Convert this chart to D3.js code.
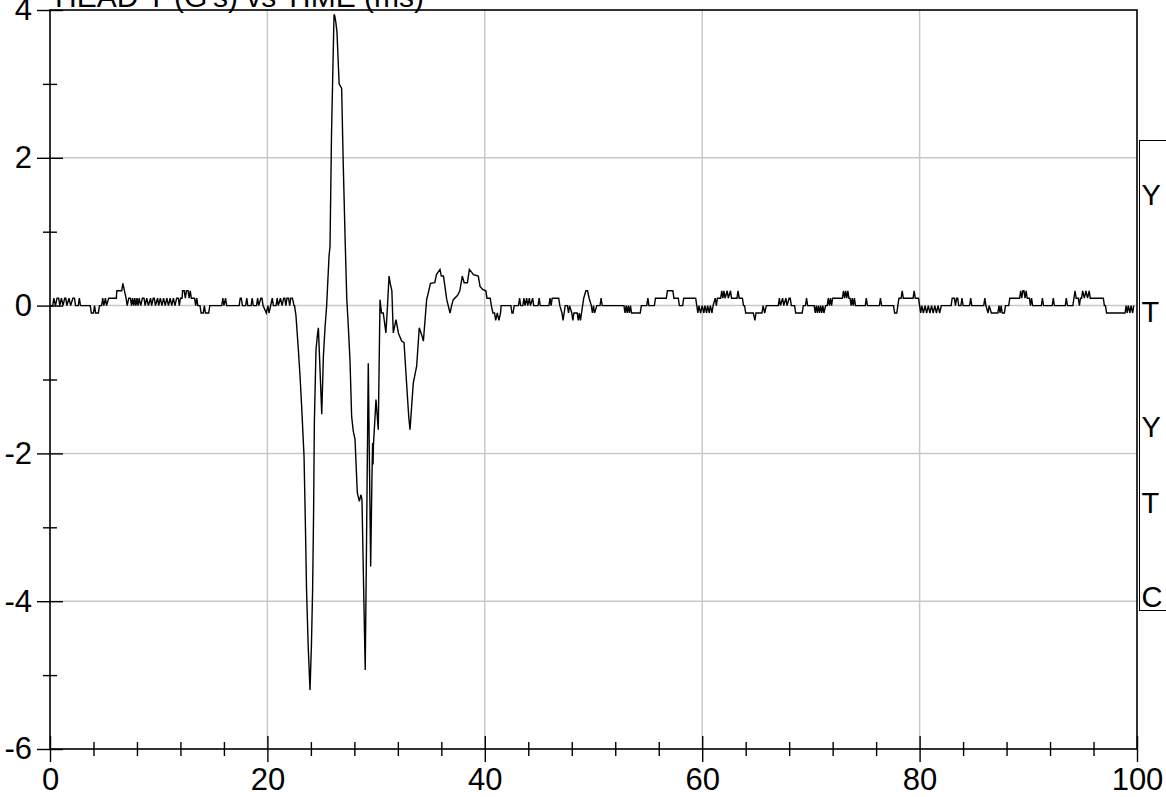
<!DOCTYPE html>
<html>
<head>
<meta charset="utf-8">
<script src="https://cdn.jsdelivr.net/npm/d3@7"></script>
<style>
  html, body { margin: 0; padding: 0; background: #fff; overflow: hidden; }
  svg { display: block; font-family: "Liberation Sans", Arial, sans-serif; }
</style>
</head>
<body>
<svg id="chart" width="1166" height="797"></svg>
<script>
// ---------- data ----------
const chartTitle = "HEAD Y (G's) vs TIME (ms)";
const xMajorTicks = [0, 20, 40, 60, 80, 100];
const yMajorTicks = [-6, -4, -2, 0, 2, 4];
const xGridValues = [20, 40, 60, 80];
const yGridValues = [-4, -2, 0, 2];
const legendLabels = ["Y", "T", "Y", "T", "C"];
const legendRowY = [195, 312, 427, 503, 597];

// pre-impact noise (time ms, G)
const preTime = [0,0.25,0.35,0.5,0.65,0.8,0.9,1.05,1.2,1.35,1.45,1.55,1.75,1.9,2.1,2.25,2.35,2.6,2.7,2.8,
  3.7,3.8,4.0,4.1,4.2,4.45,4.55,4.75,4.85,4.95,5.1,5.2,5.4,6.1,6.15,6.6,6.7,6.85,7.0,7.1,7.25,7.4,
  7.5,7.6,7.7,7.8,7.9,8.0,8.1,8.2,8.35,8.5,8.65,8.75,8.9,9.05,9.25,9.35,9.5,9.6,9.7,9.9,10.0,10.15,10.3,10.45,
  10.6,10.75,10.9,11.05,11.2,11.35,11.5,11.65,11.8,11.9,12.0,12.15,12.2,12.35,12.45,12.55,12.7,12.8,12.9,13.0,
  13.3,13.4,13.5,13.6,13.8,13.9,14.1,14.2,14.3,14.6,14.7,15.8,15.9,16.0,16.15,16.25,17.4,17.5,17.6,17.7,
  18.0,18.1,18.2,18.5,18.6,18.7,19.0,19.1,19.2,19.4,19.5,19.6,19.9,20.05,20.15,20.3,20.45,20.55,20.8,20.9,
  21.0,21.2,21.35,21.5,21.6,21.7,21.8,21.95,22.05,22.15,22.3,22.45];
const preG = [0,0,0.1,0,0.1,0.1,0,0.1,0,0.1,0.1,0,0.1,0,0.1,0.1,0,0,0.1,0,
  0,-0.1,-0.1,0,-0.1,-0.1,0,0,0.1,0,0.1,0,0.1,0.1,0.2,0.2,0.3,0.2,0.1,0,0.1,0.1,
  0,0.1,0,0.1,0,0.1,0,0.1,0,0.1,0.1,0,0.1,0,0.1,0,0.1,0.1,0,0.1,0,0.1,0,0.1,
  0,0.1,0,0.1,0,0.1,0,0.1,0.1,0,0.1,0.1,0.2,0.2,0.1,0.2,0.2,0.1,0.2,0.1,
  0.1,0,0.1,0,0,-0.1,-0.1,0,-0.1,-0.1,0,0,0.1,0,0.1,0,0,0.1,0.1,0,
  0,0.1,0,0,0.1,0,0,0.1,0,0.1,0.1,0,-0.1,0,-0.1,0,0.1,0,0,0.1,
  0,0.1,0,0.1,0.1,0,0.1,0.1,0,0.1,0.1,0];

// impact event
const impactTime = [22.5,22.63,22.85,23.0,23.15,23.37,23.5,23.6,23.75,23.92,24.05,24.16,24.25,24.32,24.47,24.6,24.69,
  24.85,25.0,25.15,25.3,25.45,25.67,25.76,25.9,26.13,26.2,26.3,26.4,26.6,26.83,26.98,27.15,27.3,27.45,27.6,27.75,
  27.9,28.06,28.27,28.46,28.6,28.7,28.85,29.0,29.12,29.28,29.5,29.62,29.68,29.72,29.75,29.99,30.2,30.36,30.5,30.66,
  30.9,31.05,31.19,31.3,31.45,31.58,31.83,32.05,32.35,32.57,32.8,33.0,33.12,33.3,33.42,33.73,33.97,34.2,34.35,34.65,
  34.8,35.0,35.4,35.55,35.88,36.0,36.2,36.5,36.8,36.95,37.1,37.5,37.7,37.93,38.1,38.4,38.58,38.8,38.95,39.4,39.56,
  39.8,40.1,40.2,40.5,40.6,40.75,40.9,41.0,41.15,41.3,41.45,41.5];
const impactG = [0,-0.14,-0.6,-0.95,-1.36,-2.04,-3.0,-3.84,-4.6,-5.2,-4.6,-3.84,-2.8,-1.59,-0.6,-0.4,-0.3,
  -0.9,-1.47,-0.69,-0.3,0.0,0.67,0.8,2.34,3.94,3.92,3.83,3.7,3.0,2.94,1.9,0.9,0.1,-0.3,-0.75,-1.5,
  -1.7,-1.81,-2.53,-2.65,-2.56,-2.62,-3.8,-4.93,-3.2,-0.78,-3.53,-2.3,-1.86,-2.15,-1.9,-1.27,-1.68,0.08,-0.1,-0.1,
  -0.37,0.0,0.4,0.3,0.2,-0.37,-0.19,-0.37,-0.48,-0.5,-1.04,-1.5,-1.68,-1.3,-1.05,-0.82,-0.3,-0.4,-0.48,0.08,
  0.17,0.3,0.31,0.42,0.49,0.4,0.4,0.08,-0.1,0,0.08,0.14,0.2,0.4,0.31,0.31,0.49,0.45,0.42,0.4,0.26,
  0.22,0.2,0.1,0.1,0,-0.1,-0.1,-0.2,-0.1,-0.2,-0.1,0];

// post-impact noise
const postTime = [41.6,42.4,42.5,42.6,42.7,43.1,43.2,43.3,43.5,43.6,43.7,43.85,43.95,44.1,44.2,44.4,44.5,44.9,45.0,45.1,
  45.9,46.0,46.1,46.2,46.8,46.9,47.1,47.2,47.3,47.4,47.6,47.7,47.8,48.0,48.1,48.2,48.5,48.6,48.7,48.8,48.9,
  49.1,49.3,49.45,49.6,49.8,49.9,50.0,50.1,50.3,50.6,50.7,50.8,52.8,52.9,53.0,53.1,53.2,53.3,53.4,53.5,54.3,54.4,
  54.9,55.0,55.1,55.6,55.7,56.7,56.8,57.3,57.4,57.8,57.9,58.2,58.3,59.4,59.5,59.6,59.7,59.85,60.0,60.15,60.25,
  60.4,60.5,60.65,60.75,60.9,61.0,61.2,61.3,61.4,61.7,61.8,61.9,62.0,62.1,62.3,62.4,62.6,62.7,63.2,63.3,63.4,
  63.7,63.8,63.9,64.0,64.7,64.85,64.95,65.5,65.6,65.75,65.9,67.0,67.1,67.2,67.4,67.5,67.7,67.8,68.0,68.1,68.2,
  68.5,68.6,68.7,69.2,69.3,69.5,69.6,69.7,70.3,70.4,70.5,70.6,70.7,70.8,70.9,71.0,71.1,71.2,71.35,71.5,71.6,
  71.7,71.8,71.9,72.0,72.9,73.0,73.1,73.2,73.3,73.4,73.5,73.6,73.7,73.8,73.9,74.0,74.1,75.0,75.1,75.2,76.3,
  76.4,76.5,77.6,77.7,77.9,78.0,78.1,78.3,78.4,78.5,79.4,79.5,79.6,79.9,80.0,80.1,80.2,80.35,80.5,80.65,80.8,
  80.95,81.1,81.25,81.4,81.55,81.7,81.85,82.0,82.9,83.0,83.2,83.3,83.4,83.5,83.6,83.8,83.9,84.0,84.6,84.7,84.8,
  85.9,86.0,86.1,86.3,86.4,86.6,87.2,87.3,87.4,87.5,87.6,87.8,87.9,88.2,88.3,89.2,89.3,89.4,89.5,89.6,89.7,
  89.8,89.9,90.1,90.2,90.3,90.4,91.2,91.3,91.4,92.2,92.3,92.4,93.4,93.5,93.6,94.1,94.2,94.3,94.4,94.6,94.7,
  94.8,94.9,95.0,95.15,95.3,95.45,95.6,95.7,96.9,97.0,97.1,97.2,98.9,99.0,99.1,99.2,99.35,99.45,99.6,99.7];
const postG = [0,0,-0.1,-0.1,0,0,0.1,0,0,0.1,0,0.1,0,0.1,0,0.1,0,0,0.1,0,
  0,0.1,0,0.1,0.1,0,-0.1,-0.2,-0.1,0,0,-0.1,0,-0.1,-0.2,-0.1,-0.1,-0.2,-0.1,-0.2,-0.1,
  0.1,0.2,0.2,0.1,0,-0.1,0,-0.1,0,0,0.1,0,0,-0.1,0,-0.1,0,-0.1,0,-0.1,-0.1,0,
  0,0.1,0,0,0.1,0.1,0.2,0.2,0.1,0.1,0,0,0.1,0.1,0,-0.1,0,-0.1,0,-0.1,0,
  -0.1,0,-0.1,0,-0.1,0,0.1,0,0.1,0.1,0.2,0.1,0.2,0.1,0.2,0.1,0.2,0.1,0.1,0.2,0.1,
  0.1,0,0,-0.1,-0.1,-0.2,-0.1,-0.1,0,-0.1,0,0,0.1,0,0.1,0,0.1,0,0.1,0.1,0,
  0,-0.1,-0.1,-0.1,0,0,0.1,0,0,-0.1,0,-0.1,0,-0.1,0,-0.1,0,-0.1,0,0,0.1,
  0,0.1,0,0.1,0.1,0.2,0.1,0.2,0.1,0.2,0.1,0.1,0,0.1,0,0.1,0,0,0.1,0,0,
  0.1,0,0,-0.1,-0.1,0,0.1,0.1,0.2,0.1,0.1,0.2,0.1,0.1,0,-0.1,0,-0.1,0,-0.1,0,
  -0.1,0,-0.1,0,-0.1,0,-0.1,0,0,0.1,0.1,0,0.1,0.1,0,0,0.1,0,0,0.1,0,
  0,0.1,0,-0.1,0,-0.1,-0.1,0,-0.1,0,-0.1,-0.1,0,0,0.1,0.1,0.2,0.1,0.2,0.2,0.1,
  0.2,0.1,0.1,0,0.1,0,0,0.1,0,0,0.1,0,0,0.1,0,0,0.1,0.2,0.1,0.1,0,
  0.1,0.1,0.2,0.1,0.2,0.1,0.2,0.1,0.1,0,0,-0.1,-0.1,0,-0.1,0,-0.1,0,-0.1,0];

// ---------- drawing ----------
const plotLeft = 50, plotRight = 1137, plotTop = 10, plotBottom = 749;
const svg = d3.select("#chart");

const x = d3.scaleLinear().domain([0, 100]).range([plotLeft, plotRight]);
const y = d3.scaleLinear().domain([-6, 4]).range([plotBottom, plotTop]);

const times = preTime.concat(impactTime, postTime);
const vals = preG.concat(impactG, postG);
const data = times.map((t, i) => ({ t, g: vals[i] }));

// grid
const gridColor = "#c8c8c8";
svg.append("g").selectAll("line").data(xGridValues).join("line")
  .attr("x1", d => x(d)).attr("x2", d => x(d))
  .attr("y1", plotTop).attr("y2", plotBottom)
  .attr("stroke", gridColor).attr("stroke-width", 1.5);
svg.append("g").selectAll("line").data(yGridValues).join("line")
  .attr("y1", d => y(d)).attr("y2", d => y(d))
  .attr("x1", plotLeft).attr("x2", plotRight)
  .attr("stroke", gridColor).attr("stroke-width", 1.5);

// signal
const line = d3.line().x(d => x(d.t)).y(d => y(d.g));
svg.append("path").datum(data)
  .attr("d", line)
  .attr("fill", "none")
  .attr("stroke", "#000")
  .attr("stroke-width", 1.4)
  .attr("stroke-linejoin", "miter");

// frame
svg.append("rect")
  .attr("x", plotLeft).attr("y", plotTop)
  .attr("width", plotRight - plotLeft).attr("height", plotBottom - plotTop)
  .attr("fill", "none").attr("stroke", "#000").attr("stroke-width", 1.6);

// axes helpers
const plainNumber = d => String(d);   // ASCII hyphen for negatives, like the reference
function styleAxis(g) {
  g.select(".domain").remove();
  g.selectAll(".tick line").attr("stroke", "#000").attr("stroke-width", 1.4);
  g.selectAll(".tick text")
    .attr("fill", "#000")
    .style("font-size", "31px")
    .style("font-family", "'Liberation Sans', Arial, sans-serif");
}
const xMinor = d3.range(0, 101, 4).filter(v => v % 20 !== 0);
const yMinor = d3.range(-6, 5, 1).filter(v => v % 2 !== 0);

// x axis: labelled majors + crossing ticks
svg.append("g").attr("transform", `translate(0,${plotBottom})`)
  .call(d3.axisBottom(x).tickValues(xMajorTicks).tickSize(13).tickPadding(6).tickFormat(plainNumber))
  .call(styleAxis);
svg.append("g").attr("transform", `translate(0,${plotBottom})`)
  .call(d3.axisTop(x).tickValues(xMajorTicks).tickSize(13).tickFormat(""))
  .call(styleAxis);
svg.append("g").attr("transform", `translate(0,${plotBottom})`)
  .call(d3.axisBottom(x).tickValues(xMinor).tickSize(7).tickFormat(""))
  .call(styleAxis);
svg.append("g").attr("transform", `translate(0,${plotBottom})`)
  .call(d3.axisTop(x).tickValues(xMinor).tickSize(7).tickFormat(""))
  .call(styleAxis);

// y axis
svg.append("g").attr("transform", `translate(${plotLeft},0)`)
  .call(d3.axisLeft(y).tickValues(yMajorTicks).tickSize(13).tickPadding(5).tickFormat(plainNumber))
  .call(styleAxis);
svg.append("g").attr("transform", `translate(${plotLeft},0)`)
  .call(d3.axisRight(y).tickValues(yMajorTicks).tickSize(13).tickFormat(""))
  .call(styleAxis);
svg.append("g").attr("transform", `translate(${plotLeft},0)`)
  .call(d3.axisLeft(y).tickValues(yMinor).tickSize(7).tickFormat(""))
  .call(styleAxis);
svg.append("g").attr("transform", `translate(${plotLeft},0)`)
  .call(d3.axisRight(y).tickValues(yMinor).tickSize(7).tickFormat(""))
  .call(styleAxis);

// title
svg.append("text")
  .attr("x", 55).attr("y", 7)
  .style("font-size", "30px")
  .attr("fill", "#000")
  .text(chartTitle);

// legend box (runs past the window edge, as in the reference)
const legendTop = 140.5, legendBottom = 610.5, legendLeft = 1139.5;
svg.append("rect")
  .attr("x", legendLeft).attr("y", legendTop)
  .attr("width", 60).attr("height", legendBottom - legendTop)
  .attr("fill", "#fff").attr("stroke", "#000").attr("stroke-width", 1);
svg.append("g").selectAll("text").data(legendLabels).join("text")
  .attr("x", legendLeft + 2)
  .attr("y", (d, i) => legendRowY[i])
  .attr("dy", "0.36em")
  .style("font-size", "29px")
  .attr("fill", "#000")
  .text(d => d);
</script>
</body>
</html>
